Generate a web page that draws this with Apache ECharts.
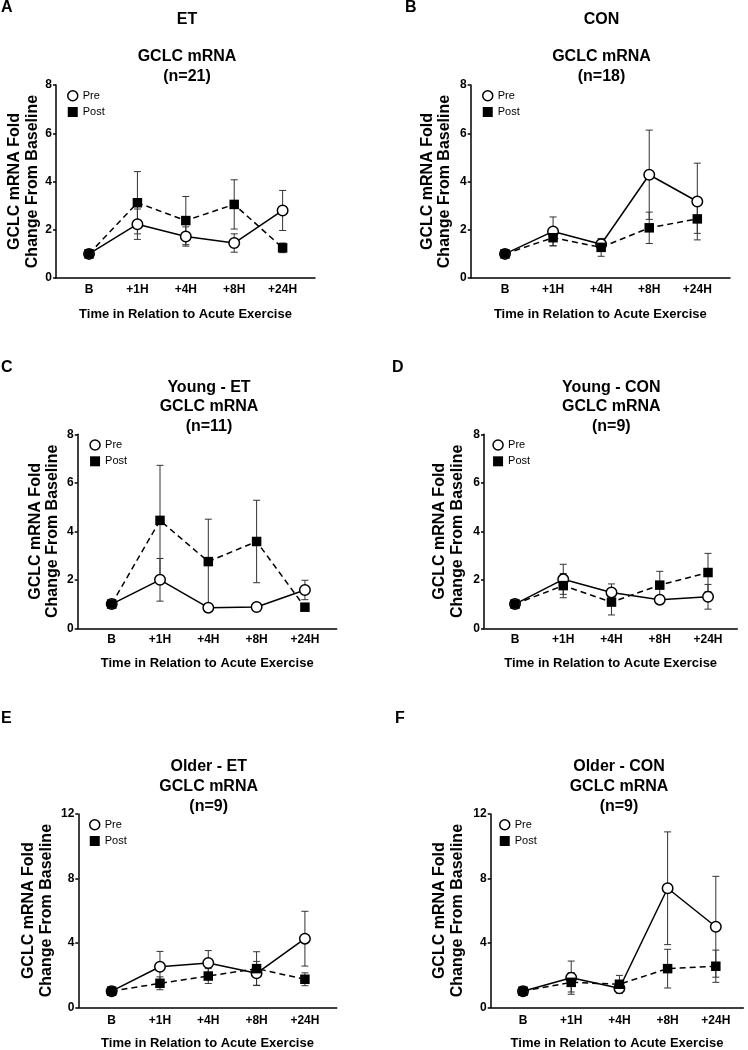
<!DOCTYPE html>
<html><head><meta charset="utf-8">
<script src="https://cdn.jsdelivr.net/npm/echarts@6/dist/echarts.min.js"></script>
<style>html,body{margin:0;padding:0;background:#fff}#c{width:748px;height:1050px}</style>
</head><body><div id="c"></div>
<script>
// ---- data ----
const timepoints = ['B', '+1H', '+4H', '+8H', '+24H'];
const seriesNames = ['Pre', 'Post'];
const yAxisName = 'GCLC mRNA Fold\nChange From Baseline';
const xAxisName = 'Time in Relation to Acute Exercise';

const preA = [1.0, 2.23, 1.72, 1.45, 2.80];
const preAErr = [0, 0.63, 0.40, 0.38, 0.83];
const postA = [1.0, 3.12, 2.38, 3.05, 1.25];
const postAErr = [0, 1.29, 1.00, 1.02, 0.20];

const preB = [1.0, 1.93, 1.40, 4.28, 3.17];
const preBErr = [0, 0.60, 0.22, 1.85, 1.59];
const postB = [1.0, 1.67, 1.27, 2.08, 2.45];
const postBErr = [0, 0.33, 0.37, 0.65, 0.60];

const preC = [1.0, 2.00, 0.85, 0.88, 1.58];
const preCErr = [0, 0.88, 0.10, 0.15, 0.40];
const postC = [1.0, 4.45, 2.75, 3.58, 0.87];
const postCErr = [0, 2.27, 1.75, 1.70, 0.10];

const preD = [1.0, 2.02, 1.48, 1.18, 1.30];
const preDErr = [0, 0.62, 0.35, 0.17, 0.51];
const postD = [1.0, 1.76, 1.08, 1.78, 2.30];
const postDErr = [0, 0.50, 0.53, 0.57, 0.79];

const preE = [1.0, 2.52, 2.75, 2.11, 4.26];
const preEErr = [0, 0.95, 0.77, 0.74, 1.70];
const postE = [1.0, 1.49, 1.94, 2.40, 1.74];
const postEErr = [0, 0.40, 0.46, 1.05, 0.40];

const preF = [1.0, 1.84, 1.18, 7.39, 5.00];
const preFErr = [0, 1.03, 0.30, 3.50, 3.13];
const postF = [1.0, 1.55, 1.43, 2.40, 2.55];
const postFErr = [0, 0.60, 0.55, 1.20, 1.00];

const panelLetters = ['A', 'B', 'C', 'D', 'E', 'F'];
const panelHeaders = ['ET', 'CON', null, null, null, null];
const panelTitles = [
  'GCLC mRNA\n(n=21)', 'GCLC mRNA\n(n=18)',
  'Young - ET\nGCLC mRNA\n(n=11)', 'Young - CON\nGCLC mRNA\n(n=9)',
  'Older - ET\nGCLC mRNA\n(n=9)', 'Older - CON\nGCLC mRNA\n(n=9)'
];
const yMaxes = [8, 8, 8, 8, 12, 12];
const yIntervals = [2, 2, 2, 2, 4, 4];

const panelData = [
  [preA, preAErr, postA, postAErr],
  [preB, preBErr, postB, postBErr],
  [preC, preCErr, postC, postCErr],
  [preD, preDErr, postD, postDErr],
  [preE, preEErr, postE, postEErr],
  [preF, preFErr, postF, postFErr]
];

// ---- layout (positions / styles) ----
const layout = [
  {grid:{left:56, top:85, width:259, height:193}, xMin:-0.682, xMax:4.669, titleX:187, letterX:1, letterTop:0, headerTop:10, titleTop:47, legendLeft:67, yNameGap:15, xNameGap:29.5, xLabelMargin:6},
  {grid:{left:470.7, top:85, width:259.3, height:193}, xMin:-0.713, xMax:4.68, titleX:601.5, letterX:405, letterTop:0, headerTop:10, titleTop:47, legendLeft:482, yNameGap:17, xNameGap:29.5, xLabelMargin:6},
  {grid:{left:77.7, top:434.3, width:259, height:194}, xMin:-0.704, xMax:4.658, titleX:209, letterX:1, letterTop:359.5, titleTop:377.5, legendLeft:89.3, yNameGap:16, xNameGap:29, xLabelMargin:5.5},
  {grid:{left:484, top:434.3, width:253.3, height:194}, xMin:-0.642, xMax:4.607, titleX:611.3, letterX:392, letterTop:359.5, titleTop:377.5, legendLeft:492.3, yNameGap:18, xNameGap:29, xLabelMargin:5.5},
  {grid:{left:78.3, top:814, width:258.4, height:193.3}, xMin:-0.69, xMax:4.658, titleX:208.7, letterX:1, letterTop:711, titleTop:757, legendLeft:89, yNameGap:23, xNameGap:30, xLabelMargin:7},
  {grid:{left:490.7, top:814, width:252.6, height:193.3}, xMin:-0.67, xMax:4.57, titleX:619, letterX:395, letterTop:711, titleTop:757, legendLeft:499, yNameGap:24.5, xNameGap:30, xLabelMargin:7}
];

const FONT = '"Liberation Sans", Arial, Helvetica, sans-serif';
const BLACK = '#000';

const titles = [], grids = [], xAxes = [], yAxes = [], legends = [], series = [];

function errData(vals, errs) {
  const out = [];
  vals.forEach((v, i) => { if (errs[i] > 0) out.push([i, v - errs[i], v + errs[i]]); });
  return out;
}

function errRender(params, api) {
  const x = api.value(0);
  const pHi = api.coord([x, api.value(2)]);
  const pLo = api.coord([x, api.value(1)]);
  const w = 3.5;
  const st = {stroke: '#333', lineWidth: 1};
  return {type: 'group', children: [
    {type: 'line', shape: {x1: pHi[0], y1: pHi[1], x2: pLo[0], y2: pLo[1]}, style: st},
    {type: 'line', shape: {x1: pHi[0] - w, y1: pHi[1], x2: pHi[0] + w, y2: pHi[1]}, style: st},
    {type: 'line', shape: {x1: pLo[0] - w, y1: pLo[1], x2: pLo[0] + w, y2: pLo[1]}, style: st}
  ]};
}

layout.forEach((L, k) => {
  titles.push({text: panelLetters[k], left: L.letterX, top: L.letterTop, padding: 0,
    textStyle: {fontFamily: FONT, fontSize: 16, fontWeight: 'bold', color: BLACK, lineHeight: 16}});
  if (panelHeaders[k]) {
    titles.push({text: panelHeaders[k], left: L.titleX, top: L.headerTop, textAlign: 'center', padding: 0,
      textStyle: {fontFamily: FONT, fontSize: 16, fontWeight: 'bold', color: BLACK, lineHeight: 20}});
  }
  titles.push({text: panelTitles[k], left: L.titleX, top: L.titleTop, textAlign: 'center', padding: 0,
    textStyle: {fontFamily: FONT, fontSize: 16, fontWeight: 'bold', color: BLACK, lineHeight: 19.7}});

  grids.push(Object.assign({outerBoundsMode: 'none', containLabel: false}, L.grid));

  xAxes.push({
    type: 'value', gridIndex: k, min: L.xMin, max: L.xMax,
    axisLine: {show: true, onZero: false, lineStyle: {color: BLACK, width: 1.5}},
    axisTick: {show: false}, splitLine: {show: false},
    axisLabel: {customValues: [0, 1, 2, 3, 4], formatter: v => timepoints[Math.round(v)],
      margin: L.xLabelMargin, fontFamily: FONT, fontSize: 12, fontWeight: 'bold', color: BLACK},
    name: xAxisName, nameLocation: 'middle', nameGap: L.xNameGap,
    nameTextStyle: {fontFamily: FONT, fontSize: 13, fontWeight: 'bold', color: BLACK}
  });
  yAxes.push({
    type: 'value', gridIndex: k, min: 0, max: yMaxes[k], interval: yIntervals[k],
    axisLine: {show: true, onZero: false, lineStyle: {color: BLACK, width: 1.5}},
    axisTick: {show: true, inside: false, length: 3, lineStyle: {color: BLACK, width: 1.5}},
    splitLine: {show: false},
    axisLabel: {margin: 4, fontFamily: FONT, fontSize: 12, fontWeight: 'bold', color: BLACK},
    name: yAxisName, nameLocation: 'middle', nameRotate: 90, nameGap: L.yNameGap,
    nameTextStyle: {fontFamily: FONT, fontSize: 16, fontWeight: 'bold', color: BLACK, lineHeight: 17.7, align: 'center'}
  });
  legends.push({
    left: L.legendLeft, top: L.grid.top + 5, orient: 'vertical', padding: 0,
    itemWidth: 10, itemHeight: 10, itemGap: 5, selectedMode: false,
    textStyle: {fontFamily: FONT, fontSize: 11, color: BLACK},
    data: [
      {name: seriesNames[0], icon: 'circle', itemStyle: {color: '#fff', borderColor: BLACK, borderWidth: 1.5}},
      {name: seriesNames[1], icon: 'rect', itemStyle: {color: BLACK, borderWidth: 0}}
    ]
  });

  const [pre, preErr, post, postErr] = panelData[k];
  series.push({type: 'custom', name: 'errPre' + k, xAxisIndex: k, yAxisIndex: k, z: 1,
    renderItem: errRender, encode: {x: 0, y: [1, 2]}, data: errData(pre, preErr), silent: true});
  series.push({type: 'custom', name: 'errPost' + k, xAxisIndex: k, yAxisIndex: k, z: 1,
    renderItem: errRender, encode: {x: 0, y: [1, 2]}, data: errData(post, postErr), silent: true});
  series.push({type: 'line', name: seriesNames[0], xAxisIndex: k, yAxisIndex: k, z: 3,
    data: pre.map((v, i) => [i, v]), symbol: 'circle', symbolSize: 10.5, showAllSymbol: true,
    itemStyle: {color: '#fff', borderColor: BLACK, borderWidth: 1.5},
    lineStyle: {color: BLACK, width: 1.5, type: 'solid'}, emphasis: {disabled: true}, silent: true});
  series.push({type: 'line', name: seriesNames[1], xAxisIndex: k, yAxisIndex: k, z: 4,
    data: post.map((v, i) => [i, v]), symbol: 'rect', symbolSize: 9.5, showAllSymbol: true,
    itemStyle: {color: BLACK, borderWidth: 0},
    lineStyle: {color: BLACK, width: 1.5, type: [6, 4]}, emphasis: {disabled: true}, silent: true});
});

const chart = echarts.init(document.getElementById('c'), null, {renderer: 'canvas'});
chart.setOption({
  animation: false,
  backgroundColor: '#fff',
  title: titles, grid: grids, xAxis: xAxes, yAxis: yAxes, legend: legends, series: series
});
</script></body></html>
